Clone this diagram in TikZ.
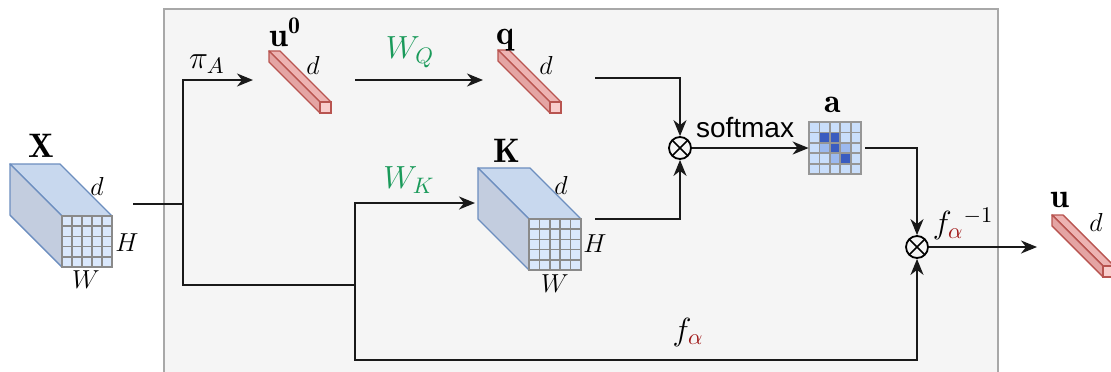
\RequirePackage{fix-cm}
\documentclass[tikz,border=0pt]{standalone}
\usepackage{fontspec}
\newfontfamily\sanslabel{Liberation Sans}
\usetikzlibrary{arrows.meta,calc}
\usepackage{xcolor}
\definecolor{panelfill}{HTML}{F5F5F5}
\definecolor{paneledge}{HTML}{A8A8A8}
\definecolor{blueedge}{HTML}{6C8EBF}
\definecolor{bluetop}{HTML}{C8D8EE}
\definecolor{blueside}{HTML}{C3CDDF}
\definecolor{cellblue}{HTML}{DAE8FC}
\definecolor{celllight}{HTML}{C9DEFB}
\definecolor{cellmid}{HTML}{9CB9EF}
\definecolor{celldark}{HTML}{3A5CC0}
\definecolor{gridgray}{HTML}{8A8A8A}
\definecolor{rededge}{HTML}{B85450}
\definecolor{redtop}{HTML}{EDB3B2}
\definecolor{redside}{HTML}{E4A4A3}
\definecolor{redfront}{HTML}{F9CDCC}
\definecolor{projgreen}{HTML}{1A9A5A}
\definecolor{alphared}{HTML}{A01818}

% feature map: front face corner, width, height, depth
\newcommand{\featuremap}[5]{%
  \filldraw[draw=blueedge, fill=bluetop, line width=0.7pt, line join=round]
    ({#1-#5},{#2-#5}) -- ({#1+#3-#5},{#2-#5}) -- ({#1+#3},{#2}) -- (#1,#2) -- cycle;
  \filldraw[draw=blueedge, fill=blueside, line width=0.7pt, line join=round]
    ({#1-#5},{#2-#5}) -- (#1,#2) -- ({#1},{#2+#4}) -- ({#1-#5},{#2+#4-#5}) -- cycle;
  \foreach \i in {0,...,4}{\foreach \j in {0,...,4}{%
    \filldraw[draw=gridgray, fill=cellblue, line width=0.85pt]
      ({#1+\i*#3/5},{#2+\j*#4/5}) rectangle ++({#3/5},{#4/5});}}%
}
% vector bar: front face corner, size, depth
\newcommand{\vecbar}[4]{%
  \filldraw[draw=rededge, fill=redtop, line width=0.7pt, line join=round]
    ({#1-#4},{#2-#4}) -- ({#1+#3-#4},{#2-#4}) -- ({#1+#3},{#2}) -- (#1,#2) -- cycle;
  \filldraw[draw=rededge, fill=redside, line width=0.7pt, line join=round]
    ({#1-#4},{#2-#4}) -- (#1,#2) -- ({#1},{#2+#3}) -- ({#1-#4},{#2+#3-#4}) -- cycle;
  \filldraw[draw=rededge, fill=redfront, line width=0.7pt] (#1,#2) rectangle ++(#3,#3);
}

\begin{document}
\begin{tikzpicture}[
    x=0.5pt, y=-0.5pt,
    panel/.style={draw=paneledge, fill=panelfill, line width=0.8pt},
    conn/.style={draw=black!90, line width=0.9pt},
    arr/.style={conn, -{Stealth[length=8pt,width=6.5pt,inset=2.5pt]}},
    mult/.style={
        circle, draw, line width=0.9pt,
        minimum size=11pt, inner sep=0pt,  % small round product sign
        fill=panelfill,
        path picture={\draw[line width=0.8pt]
            (path picture bounding box.north west) -- (path picture bounding box.south east)
            (path picture bounding box.north east) -- (path picture bounding box.south west);}
    },
    dimlabel/.style={font=\fontsize{13}{15}\selectfont},
    namelabel/.style={font=\fontsize{17}{19}\selectfont, anchor=base},
    oplabel/.style={font=\fontsize{16}{18}\selectfont},
]
\useasboundingbox (0,0) rectangle (1111,371);
\clip (0,0) rectangle (1111,371);

% grey panel
\draw[panel] (164,9) rectangle (998,390);

% tensors
\featuremap{62}{216}{50}{51}{52}
\featuremap{529}{219}{52}{51}{51}
\vecbar{320}{102}{11}{51}
\vecbar{550}{102}{11}{52}
\vecbar{1103}{266}{11}{51}

% attention map
\node[inner sep=0pt, minimum size=26pt] (attn) at (835,148) {};
\foreach \i in {0,...,4}{\foreach \j in {0,...,4}{
    \filldraw[draw=gridgray!90, fill=celllight, line width=0.9pt]
      ({809+\i*10.4},{122+\j*10.4}) rectangle ++(10.4,10.4);}}
\foreach \i/\j/\c in {1/1/celldark, 2/1/celldark, 1/2/cellmid, 2/2/celldark,
                      3/2/cellmid, 2/3/cellmid, 3/3/celldark}
    \filldraw[draw=gridgray!90, fill=\c, line width=0.9pt]
      ({809+\i*10.4},{122+\j*10.4}) rectangle ++(10.4,10.4);

% names and sizes
\node[namelabel] (lblX) at (41,157) {$\mathbf{X}$};
\node[namelabel] (lblK) at (507,162) {$\mathbf{K}$};
\node[namelabel] (lblu0) at (285,46) {$\mathbf{u}^{\mathbf{0}}$};
\node[namelabel] (lblq) at (505,44) {$\mathbf{q}$};
\node[namelabel] (lbla) at (833,112) {$\mathbf{a}$};
\node[namelabel] (lblu) at (1060,207) {$\mathbf{u}$};
\node[dimlabel] (dX) at (97,186) {$d$};
\node[dimlabel] (HX) at (127,243) {$H$};
\node[dimlabel] (WX) at (86,280) {$W$};
\node[dimlabel] (dK) at (561,185) {$d$};
\node[dimlabel] (HK) at (595,244) {$H$};
\node[dimlabel] (WK) at (555,284) {$W$};
\node[dimlabel] (du0) at (313,65) {$d$};
\node[dimlabel] (dq) at (546,65) {$d$};
\node[dimlabel] (du) at (1096,222) {$d$};

% products
\node[mult] (mul1) at (680,148) {};
\node[mult] (mul2) at (917,247) {};

% connector end points
\coordinate (xout) at (133,204);
\coordinate (split) at (183,204);
\coordinate (u0in) at (253,80);
\coordinate (u0out) at (355,80);
\coordinate (qin) at (483,80);
\coordinate (qout) at (595,78);
\coordinate (kbranch) at (355,285);
\coordinate (kin) at (475,203);
\coordinate (kout) at (595,219);
\coordinate (fbase) at (355,360);
\coordinate (aout) at (865,148);
\coordinate (uin) at (1037,247);

% connectors
\draw[conn] (xout) -- (split);
\draw[arr] (split) |- (u0in);
\draw[conn] (split) |- (kbranch);
\draw[arr] (kbranch) |- (kin);
\draw[arr] (kbranch) -- (fbase) -| (mul2.south);
\draw[arr] (u0out) -- (qin);
\draw[arr] (qout) -| (mul1.north);
\draw[arr] (kout) -| (mul1.south);
\draw[arr] (mul1) -- (attn.west);
\draw[arr] (aout) -| (mul2.north);
\draw[arr] (mul2) -- (uin);

% operation labels
\node[oplabel] (piA) at (207,64) {$\pi_A$};
\node[oplabel, text=projgreen] (WQ) at (410,52) {$W_Q$};
\node[oplabel, text=projgreen] (WKlbl) at (409,180) {$W_K$};
\node[font=\sanslabel\fontsize{14}{16}\selectfont] (smax) at (745,127) {softmax};
\node[oplabel] (falpha) at (688,332) {$f_{\color{alphared}\alpha}$};
\node[oplabel] (finv) at (963,224) {$f_{\color{alphared}\alpha}^{-1}$};
\end{tikzpicture}
\end{document}
